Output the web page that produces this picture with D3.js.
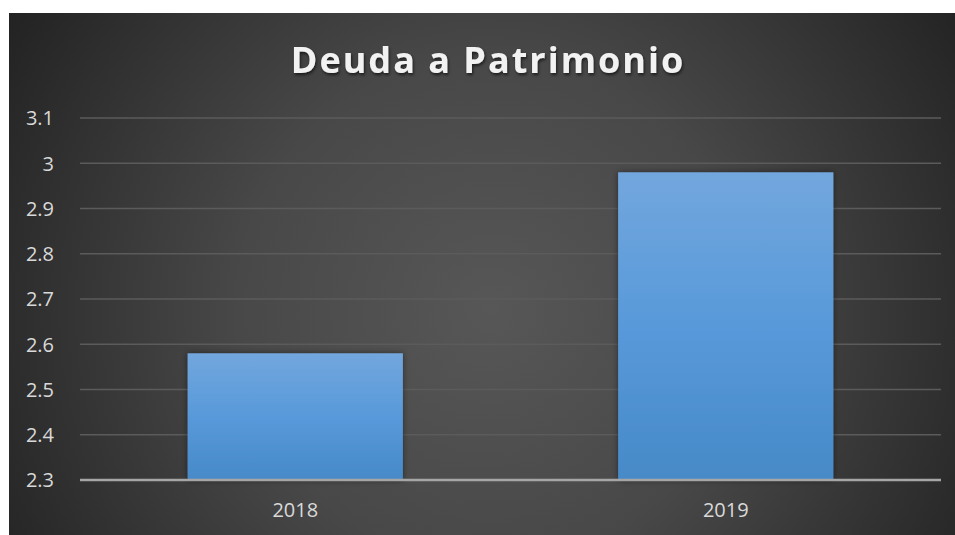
<!DOCTYPE html>
<html>
<head>
<meta charset="utf-8">
<style>
  body { margin: 0; background: #fff; }
  svg { display: block; }
</style>
</head>
<body>
<div id="container"></div>
<script src="https://cdn.jsdelivr.net/npm/d3@7"></script>
<script>
// chart data
const categories = ["2018", "2019"];
const values = [2.58, 2.98];
const yTicks = [2.3, 2.4, 2.5, 2.6, 2.7, 2.8, 2.9, 3, 3.1];
const title = "Deuda a Patrimonio";

const W = 955, H = 535;
const svg = d3.select("#container").append("svg")
  .attr("width", W)
  .attr("height", H);

const defs = svg.append("defs");

// radial background like the office theme
const bg = defs.append("radialGradient")
  .attr("id", "bg")
  .attr("gradientUnits", "userSpaceOnUse")
  .attr("cx", 490).attr("cy", 310).attr("r", 560);
bg.append("stop").attr("offset", "0%").attr("stop-color", "#575757");
bg.append("stop").attr("offset", "45%").attr("stop-color", "#484848");
bg.append("stop").attr("offset", "100%").attr("stop-color", "#232323");

const barGrad = defs.append("linearGradient")
  .attr("id", "bar")
  .attr("x1", 0).attr("y1", 0).attr("x2", 0).attr("y2", 1);
barGrad.append("stop").attr("offset", "0%").attr("stop-color", "#72a7dd");
barGrad.append("stop").attr("offset", "50%").attr("stop-color", "#5899da");
barGrad.append("stop").attr("offset", "100%").attr("stop-color", "#478ac8");

const shadow = defs.append("filter").attr("id", "shadow")
  .attr("x", "-20%").attr("y", "-20%").attr("width", "140%").attr("height", "140%");
shadow.append("feDropShadow")
  .attr("dx", 0).attr("dy", 0).attr("stdDeviation", 3)
  .attr("flood-color", "#000").attr("flood-opacity", 0.45);

const titleShadow = defs.append("filter").attr("id", "tshadow");
titleShadow.append("feDropShadow")
  .attr("dx", 1).attr("dy", 2).attr("stdDeviation", 1.5)
  .attr("flood-color", "#000").attr("flood-opacity", 0.6);

svg.append("rect")
  .attr("x", 9).attr("y", 13)
  .attr("width", W - 9).attr("height", H - 13)
  .attr("fill", "url(#bg)");

const plot = { left: 80, right: 941, top: 118, bottom: 480 };

const x = d3.scaleBand()
  .domain(categories)
  .range([plot.left, plot.right])
  .paddingInner(0.5)
  .paddingOuter(0.25);

const y = d3.scaleLinear()
  .domain([2.3, 3.1])
  .range([plot.bottom, plot.top]);

// gridlines
svg.append("g")
  .selectAll("line")
  .data(yTicks.slice(1))
  .join("line")
  .attr("x1", plot.left).attr("x2", plot.right)
  .attr("y1", d => y(d)).attr("y2", d => y(d))
  .attr("stroke", "#5b5b5b")
  .attr("stroke-width", 1.5);

// y labels
const yAxis = svg.append("g")
  .attr("transform", `translate(${plot.left - 23},0)`)
  .call(d3.axisLeft(y).tickValues(yTicks).tickSize(0).tickFormat(d3.format("")));
yAxis.select(".domain").remove();
yAxis.selectAll("text")
  .attr("fill", "#d9d9d9")
  .attr("font-family", "Open Sans")
  .attr("font-size", 20)
  .attr("dx", 0)
  .attr("dy", "0.34em");

// bars
svg.append("g")
  .selectAll("rect")
  .data(values)
  .join("rect")
  .attr("x", (d, i) => x(categories[i]))
  .attr("y", d => y(d))
  .attr("width", x.bandwidth())
  .attr("height", d => y(2.3) - y(d))
  .attr("fill", "url(#bar)")
  .attr("filter", "url(#shadow)");

// x axis line
svg.append("line")
  .attr("x1", plot.left).attr("x2", plot.right)
  .attr("y1", plot.bottom).attr("y2", plot.bottom)
  .attr("stroke", "#a6a6a6")
  .attr("stroke-width", 2.5);

// x labels
const xAxis = svg.append("g")
  .attr("transform", `translate(0,${plot.bottom + 20})`)
  .call(d3.axisBottom(x).tickSize(0));
xAxis.select(".domain").remove();
xAxis.selectAll("text")
  .attr("fill", "#d9d9d9")
  .attr("font-family", "Open Sans")
  .attr("font-size", 20)
  .attr("dy", "0.71em");

// title
svg.append("text")
  .attr("x", 488)
  .attr("y", 73)
  .attr("text-anchor", "middle")
  .attr("fill", "#f2f2f2")
  .attr("font-family", "Open Sans")
  .attr("font-weight", "bold")
  .attr("font-size", 36)
  .attr("letter-spacing", 2)
  .attr("filter", "url(#tshadow)")
  .text(title);
</script>
</body>
</html>
